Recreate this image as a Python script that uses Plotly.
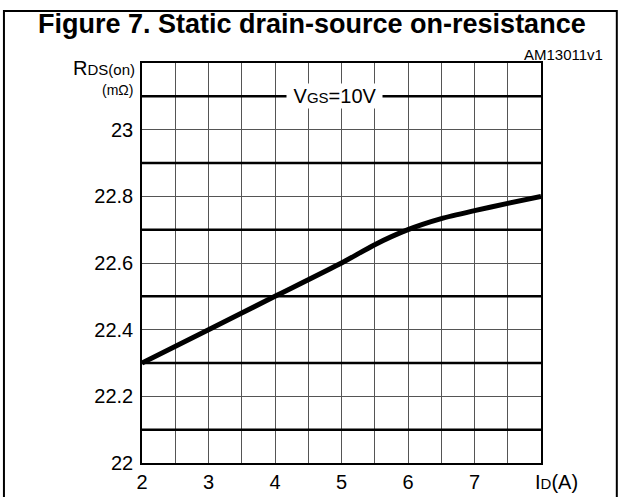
import plotly.graph_objects as go

# Data
id_a = [2, 3, 4, 5, 5.5, 6, 6.5, 7, 7.5, 8]
rds_on = [22.3, 22.4, 22.5, 22.6, 22.655, 22.7, 22.733, 22.757, 22.779, 22.8]

x_ticks = [2, 3, 4, 5, 6, 7]
x_tick_labels = ["2", "3", "4", "5", "6", "7"]
y_ticks = [22, 22.2, 22.4, 22.6, 22.8, 23]
y_tick_labels = ["22", "22.2", "22.4", "22.6", "22.8", "23"]
thick_lines = [22.1, 22.3, 22.5, 22.7, 22.9, 23.1]

FONT = "Arial, Liberation Sans, sans-serif"

fig = go.Figure()

# thick horizontal reference lines
for yv in thick_lines:
    fig.add_shape(type="line", xref="x", yref="y", x0=2, x1=8, y0=yv, y1=yv,
                  line=dict(color="black", width=2.5), layer="between")

fig.add_trace(go.Scatter(
    x=id_a, y=rds_on, mode="lines",
    line=dict(color="black", width=5, shape="spline", smoothing=0.6),
    hoverinfo="skip", showlegend=False))

fig.update_xaxes(
    range=[2, 8], showgrid=True, gridcolor="#555555", gridwidth=1,
    tickmode="array", tickvals=x_ticks, ticktext=x_tick_labels,
    showline=True, linecolor="black", linewidth=1.5, mirror=True,
    ticks="", ticklabelstandoff=0, zeroline=False, automargin=False,
    minor=dict(dtick=0.5, showgrid=True, gridcolor="#555555", gridwidth=1, tick0=2),
    tickfont=dict(family=FONT, size=20, color="black"))
fig.update_yaxes(
    range=[22, 23.2], showgrid=True, gridcolor="#555555", gridwidth=1,
    tickmode="array", tickvals=y_ticks, ticktext=y_tick_labels,
    showline=True, linecolor="black", linewidth=1.5, mirror=True,
    ticks="", ticklabelstandoff=3, zeroline=False, automargin=False,
    minor=dict(tickvals=[22.2, 22.4, 22.6, 22.8, 23.0], showgrid=True,
               gridcolor="#555555", gridwidth=1),
    tickfont=dict(family=FONT, size=20, color="black"))

annotations = [
    dict(text="<b>Figure 7. Static drain-source on-resistance</b>",
         xref="paper", yref="paper", x=0.426, y=1.0975,
         xanchor="center", yanchor="middle", showarrow=False,
         font=dict(family=FONT, size=27, color="black")),
    dict(text="AM13011v1", xref="paper", yref="paper", x=1.160, y=1.02,
         xanchor="right", yanchor="middle", showarrow=False,
         font=dict(family=FONT, size=15, color="black")),
    dict(text="R<span style='font-size:15px'>DS(on)</span>",
         xref="paper", yref="paper", x=-0.0125, y=0.9875,
         xanchor="right", yanchor="middle", showarrow=False,
         font=dict(family=FONT, size=20, color="black")),
    dict(text="(mΩ)", xref="paper", yref="paper", x=-0.017, y=0.9325,
         xanchor="right", yanchor="middle", showarrow=False,
         font=dict(family=FONT, size=14, color="black")),
    dict(text="\u00a0V<span style='font-size:15px'>GS</span>=10V\u00a0",
         xref="x", yref="y", x=4.9, y=23.1,
         xanchor="center", yanchor="middle", showarrow=False,
         bgcolor="white", borderpad=1,
         font=dict(family=FONT, size=20, color="black")),
    dict(text="I<span style='font-size:15px'>D</span>(A)",
         xref="paper", yref="paper", x=1.04, y=0, yshift=-19,
         xanchor="center", yanchor="middle", showarrow=False,
         font=dict(family=FONT, size=20, color="black")),
]

fig.add_shape(type="rect", xref="paper", yref="paper",
              x0=-0.346, x1=1.190, y0=-0.095, y1=1.13,
              line=dict(color="black", width=2), layer="above")

fig.update_layout(
    width=621, height=497,
    margin=dict(l=142, r=80, t=63, b=34, autoexpand=False),
    paper_bgcolor="white", plot_bgcolor="white",
    annotations=annotations, showlegend=False,
    font=dict(family=FONT, color="black"))

fig.write_html("out.html", config={"displayModeBar": False},
               post_script="document.body.style.margin='0px';document.body.style.overflow='hidden';")
